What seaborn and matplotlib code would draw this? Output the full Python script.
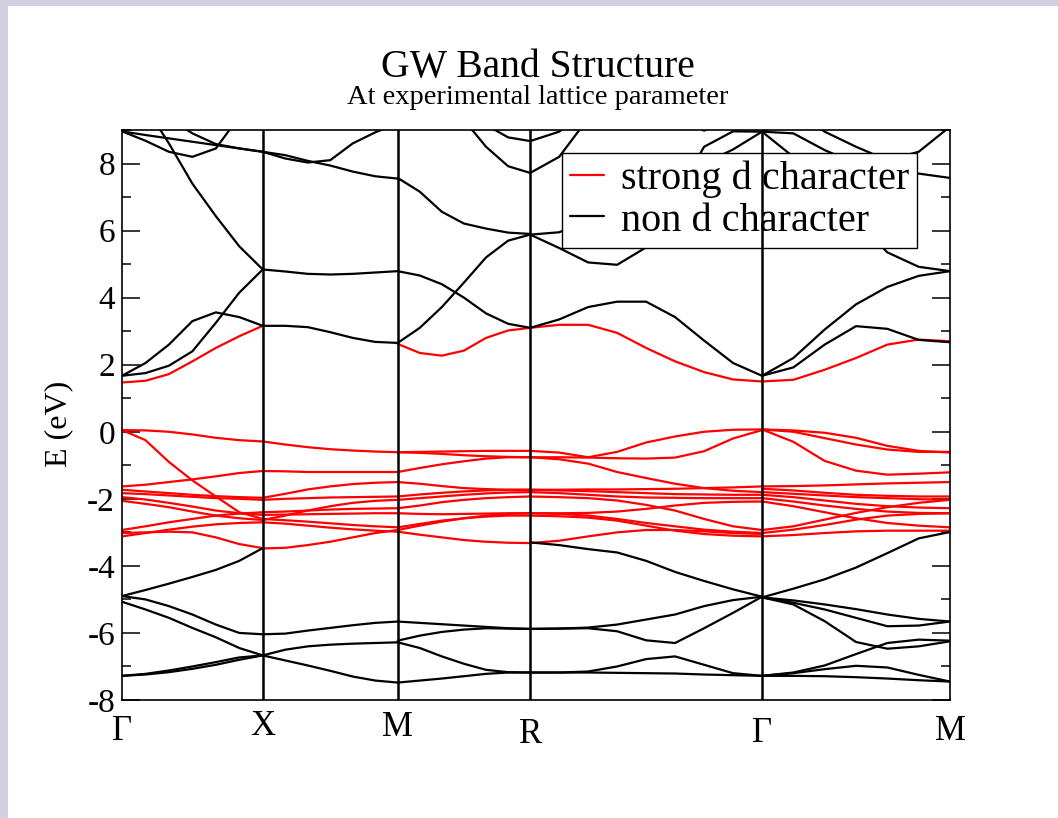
import numpy as np
import pandas as pd
import matplotlib
matplotlib.use('Agg')
import matplotlib.pyplot as plt
import seaborn as sns
from matplotlib.lines import Line2D
from matplotlib.patches import Rectangle
from matplotlib.ticker import MultipleLocator
from matplotlib.transforms import ScaledTranslation

## high symmetry points (position along the path) and their labels
kpts = [0.0, 0.170, 0.333, 0.493, 0.773, 1.0]
klabels = ['Γ', 'X', 'M', 'R', 'Γ', 'M']

## band energies (eV) read off at evenly spaced k-points along each segment
## red = strong d character, black = non d character

## Γ -> X
red_GX = [
    [0.05, 0.04, 0.0, -0.08, -0.18, -0.25, -0.29],
    [0.05, -0.25, -0.9, -1.45, -1.93, -2.4, -2.6],
    [-1.63, -1.58, -1.5, -1.42, -1.33, -1.23, -1.17],
    [-1.73, -1.78, -1.83, -1.88, -1.92, -1.95, -1.97],
    [-1.83, -1.86, -1.9, -1.94, -1.98, -2.0, -2.03],
    [-1.95, -2.02, -2.12, -2.23, -2.35, -2.43, -2.48],
    [-2.06, -2.15, -2.25, -2.38, -2.5, -2.58, -2.63],
    [-2.93, -2.82, -2.7, -2.6, -2.5, -2.44, -2.4],
    [-3.02, -3.0, -2.98, -3.0, -3.15, -3.35, -3.47],
    [-3.12, -3.02, -2.92, -2.83, -2.76, -2.72, -2.7],
    [1.47, 1.52, 1.72, 2.1, 2.5, 2.85, 3.16],
]
black_GX = [
    [10.6, 9.7, 8.6, 7.4, 6.43, 5.53, 4.84],
    [8.96, 8.85, 8.75, 8.65, 8.55, 8.45, 8.35],
    [8.96, 8.68, 8.35, 8.2, 8.45, 9.4, 10.5],
    [10.3, 9.75, 9.35, 8.9, 8.58, 8.45, 8.35],
    [1.67, 2.05, 2.6, 3.3, 3.56, 3.42, 3.16],
    [1.67, 1.75, 1.97, 2.4, 3.25, 4.15, 4.84],
    [-4.9, -4.72, -4.53, -4.33, -4.12, -3.85, -3.47],
    [-4.9, -5.0, -5.2, -5.45, -5.75, -6.0, -6.04],
    [-5.07, -5.3, -5.55, -5.85, -6.13, -6.45, -6.67],
    [-7.28, -7.24, -7.17, -7.07, -6.95, -6.8, -6.67],
    [-7.28, -7.22, -7.12, -7.0, -6.87, -6.73, -6.67],
]

## X -> M
red_XM = [
    [-0.29, -0.38, -0.46, -0.52, -0.56, -0.59, -0.61],
    [-2.6, -2.64, -2.68, -2.73, -2.78, -2.82, -2.85],
    [-1.17, -1.18, -1.2, -1.2, -1.2, -1.2, -1.2],
    [-1.97, -1.85, -1.72, -1.63, -1.56, -1.52, -1.5],
    [-2.03, -2.0, -1.98, -1.96, -1.95, -1.94, -1.93],
    [-2.48, -2.47, -2.46, -2.45, -2.44, -2.43, -2.43],
    [-3.48, -3.46, -3.38, -3.28, -3.15, -3.02, -2.93],
    [-2.4, -2.38, -2.35, -2.32, -2.3, -2.29, -2.28],
    [-2.7, -2.74, -2.8, -2.86, -2.91, -2.95, -2.98],
    [-2.63, -2.5, -2.35, -2.22, -2.12, -2.06, -2.03],
]
black_XM = [
    [8.35, 8.25, 8.08, 7.94, 7.76, 7.62, 7.55],
    [8.35, 8.15, 8.03, 8.1, 8.6, 8.93, 9.2],
    [4.84, 4.78, 4.71, 4.69, 4.71, 4.75, 4.79],
    [3.16, 3.16, 3.12, 2.97, 2.8, 2.68, 2.65],
    [-6.04, -6.02, -5.93, -5.85, -5.77, -5.7, -5.66],
    [-6.67, -6.5, -6.4, -6.35, -6.32, -6.3, -6.28],
    [-6.67, -6.82, -6.97, -7.13, -7.3, -7.42, -7.48],
]

## M -> R
red_MR = [
    [-0.61, -0.6, -0.59, -0.58, -0.57, -0.57, -0.57],
    [-0.61, -0.63, -0.66, -0.7, -0.73, -0.75, -0.76],
    [-1.2, -1.08, -0.97, -0.88, -0.8, -0.76, -0.76],
    [-1.5, -1.55, -1.62, -1.68, -1.71, -1.73, -1.73],
    [-1.93, -1.87, -1.82, -1.78, -1.75, -1.73, -1.73],
    [-2.03, -1.98, -1.93, -1.88, -1.84, -1.81, -1.8],
    [-2.28, -2.2, -2.1, -2.03, -1.98, -1.95, -1.93],
    [-2.43, -2.45, -2.46, -2.45, -2.44, -2.43, -2.43],
    [-2.85, -2.75, -2.65, -2.58, -2.53, -2.5, -2.5],
    [-2.93, -2.8, -2.68, -2.58, -2.5, -2.45, -2.43],
    [-2.98, -3.07, -3.15, -3.23, -3.28, -3.31, -3.32],
    [2.62, 2.35, 2.27, 2.42, 2.8, 3.02, 3.1],
]
black_MR = [
    [7.57, 7.16, 6.56, 6.21, 6.06, 5.94, 5.9],
    [4.79, 4.66, 4.4, 4.0, 3.53, 3.22, 3.1],
    [2.65, 3.1, 3.72, 4.45, 5.2, 5.7, 5.88],
    [12.0, 11.0, 10.2, 9.3, 8.5, 7.92, 7.72],
    [13.0, 12.0, 11.0, 10.0, 9.15, 8.78, 8.67],
    [-5.66, -5.7, -5.74, -5.78, -5.82, -5.86, -5.88],
    [-6.23, -6.08, -5.97, -5.9, -5.86, -5.87, -5.88],
    [-6.28, -6.45, -6.7, -6.92, -7.1, -7.17, -7.18],
    [-7.48, -7.42, -7.36, -7.29, -7.22, -7.18, -7.18],
]

## R -> Γ
red_RG = [
    [-0.57, -0.62, -0.76, -0.6, -0.32, -0.14, 0.0, 0.06, 0.07],
    [-0.76, -0.76, -0.77, -0.79, -0.8, -0.77, -0.58, -0.2, 0.05],
    [-0.76, -0.82, -0.95, -1.2, -1.38, -1.55, -1.68, -1.76, -1.8],
    [-1.73, -1.73, -1.72, -1.72, -1.71, -1.7, -1.68, -1.66, -1.63],
    [-1.73, -1.75, -1.77, -1.8, -1.83, -1.86, -1.87, -1.88, -1.88],
    [-1.8, -1.83, -1.88, -1.93, -1.96, -1.97, -1.98, -1.98, -1.98],
    [-1.93, -1.95, -1.98, -2.05, -2.18, -2.35, -2.6, -2.82, -2.93],
    [-2.43, -2.43, -2.42, -2.38, -2.3, -2.2, -2.12, -2.09, -2.08],
    [-2.43, -2.45, -2.5, -2.6, -2.72, -2.82, -2.92, -2.98, -3.02],
    [-2.5, -2.52, -2.56, -2.65, -2.8, -2.95, -3.05, -3.1, -3.12],
    [-3.32, -3.25, -3.12, -3.0, -2.93, -2.93, -2.97, -3.02, -3.05],
    [3.1, 3.19, 3.19, 2.95, 2.5, 2.1, 1.78, 1.56, 1.5],
]
black_RG = [
    [5.88, 5.48, 5.05, 4.98, 5.5, 7.0, 8.5, 8.96, 8.95],
    [5.88, 5.95, 6.3, 6.8, 7.2, 7.6, 8.0, 8.42, 8.95],
    [7.72, 8.2, 9.35, 10.5, 11.5, 12.0, 12.0, 12.0, 12.0],
    [8.67, 8.95, 9.6, 10.5, 11.5, 12.0, 12.0, 12.0, 12.0],
    [12.0, 11.5, 11.0, 10.5, 10.0, 9.5, 8.98, 9.4, 10.0],
    [3.1, 3.35, 3.72, 3.88, 3.88, 3.42, 2.72, 2.05, 1.67],
    [-3.3, -3.38, -3.5, -3.6, -3.85, -4.18, -4.45, -4.7, -4.92],
    [-5.88, -5.87, -5.84, -5.75, -5.6, -5.45, -5.2, -5.02, -4.92],
    [-5.88, -5.87, -5.86, -5.95, -6.22, -6.3, -5.86, -5.4, -4.92],
    [-7.18, -7.18, -7.15, -7.0, -6.78, -6.7, -6.95, -7.2, -7.28],
    [-7.18, -7.18, -7.18, -7.19, -7.2, -7.21, -7.24, -7.26, -7.28],
]

## Γ -> M
red_GM = [
    [0.07, 0.04, -0.03, -0.18, -0.42, -0.57, -0.62],
    [0.07, 0.0, -0.19, -0.38, -0.53, -0.6, -0.6],
    [0.07, -0.3, -0.87, -1.16, -1.28, -1.25, -1.21],
    [-1.63, -1.62, -1.6, -1.57, -1.54, -1.52, -1.5],
    [-1.7, -1.75, -1.82, -1.88, -1.91, -1.93, -1.93],
    [-1.8, -1.85, -1.9, -1.95, -1.98, -2.01, -2.03],
    [-1.88, -1.95, -2.05, -2.15, -2.22, -2.26, -2.28],
    [-1.98, -2.08, -2.2, -2.3, -2.38, -2.42, -2.43],
    [-2.08, -2.22, -2.4, -2.58, -2.72, -2.8, -2.85],
    [-2.93, -2.82, -2.62, -2.42, -2.25, -2.12, -2.03],
    [-3.02, -2.92, -2.78, -2.62, -2.5, -2.45, -2.43],
    [-3.12, -3.08, -3.02, -2.97, -2.95, -2.95, -2.95],
    [1.5, 1.55, 1.85, 2.2, 2.6, 2.75, 2.7],
]
black_GM = [
    [1.67, 2.2, 3.05, 3.8, 4.32, 4.65, 4.79],
    [1.67, 1.92, 2.6, 3.15, 3.07, 2.74, 2.67],
    [8.95, 8.2, 7.3, 6.3, 5.35, 4.92, 4.79],
    [8.95, 8.9, 8.4, 8.0, 7.8, 7.7, 7.57],
    [10.5, 9.6, 8.95, 8.5, 8.1, 8.35, 9.1],
    [8.95, 9.3, 9.8, 10.5, 11.0, 11.5, 12.0],
    [-4.94, -4.68, -4.4, -4.05, -3.62, -3.18, -2.99],
    [-4.94, -5.03, -5.15, -5.29, -5.45, -5.58, -5.66],
    [-4.94, -5.1, -5.3, -5.55, -5.8, -5.78, -5.66],
    [-4.94, -5.15, -5.65, -6.27, -6.47, -6.4, -6.25],
    [-7.28, -7.18, -6.97, -6.63, -6.3, -6.2, -6.23],
    [-7.28, -7.2, -7.08, -6.98, -7.03, -7.25, -7.45],
    [-7.28, -7.28, -7.29, -7.32, -7.36, -7.41, -7.45],
]

segments = [(red_GX, black_GX), (red_XM, black_XM), (red_MR, black_MR),
            (red_RG, black_RG), (red_GM, black_GM)]

## long-form table: one row per (k, E) point, one unit per drawn curve
rows = []
for i, (reds, blacks) in enumerate(segments):
    for kind, bands in (('d', reds), ('non', blacks)):
        for j, band in enumerate(bands):
            ks = np.linspace(kpts[i], kpts[i + 1], len(band))
            for kk, e in zip(ks, band):
                rows.append((kk, e, '{}-{}-{}'.format(i, kind, j), kind))
df = pd.DataFrame(rows, columns=['k', 'E', 'band', 'kind'])

sns.set_theme(style='white', rc={'text.color': 'black', 'axes.labelcolor': 'black',
                                 'xtick.color': 'black', 'ytick.color': 'black'})
plt.rcParams['font.family'] = ['Liberation Serif', 'DejaVu Serif']
plt.rcParams['axes.unicode_minus'] = False

fig = plt.figure(figsize=(10.58, 8.18), dpi=100)
fig.patch.set_facecolor('white')
## lavender window edge on the left and top
fig.add_artist(Rectangle((0, 0), 8 / 1058, 1, transform=fig.transFigure,
                         facecolor='#d0d0e0', edgecolor='none', zorder=0))
fig.add_artist(Rectangle((0, 1 - 6 / 818), 1, 6 / 818, transform=fig.transFigure,
                         facecolor='#d0d0e0', edgecolor='none', zorder=0))

ax = fig.add_axes([122 / 1058, 1 - 700 / 818, 828 / 1058, 570 / 818])

sns.lineplot(data=df[df['kind'] == 'd'], x='k', y='E', units='band',
             estimator=None, sort=False, color='red', lw=1.6, ax=ax)
sns.lineplot(data=df[df['kind'] == 'non'], x='k', y='E', units='band',
             estimator=None, sort=False, color='black', lw=1.6, ax=ax)

for k in kpts[1:-1]:
    ax.axvline(k, color='black', lw=1.8, zorder=6)

ax.set_xlim(0, 1)
ax.set_ylim(-8, 9)
ax.set_yticks(range(-8, 9, 2))
ax.yaxis.set_minor_locator(MultipleLocator(1))
ax.tick_params(axis='y', which='both', direction='in', left=True, right=True,
               labelsize=24, width=1.1, color='black', labelcolor='black', pad=5)
ax.tick_params(axis='y', which='major', length=13)
ax.tick_params(axis='y', which='minor', length=6.5)
ax.set_xticks(kpts)
ax.set_xticklabels(klabels)
ax.tick_params(axis='x', length=0, labelsize=25, labelcolor='black', pad=7)
## small vertical offsets of the k-point labels, as in the original
for lab, dy in zip(ax.get_xticklabels(), [5, 0, 1, 8, 7, 5]):
    lab.set_transform(lab.get_transform() + ScaledTranslation(0, -dy / 100, fig.dpi_scale_trans))

for sp in ax.spines.values():
    sp.set_color('black')
    sp.set_linewidth(1.2)
    sp.set_zorder(7)

ax.set_xlabel('')
ax.set_ylabel('E (eV)', fontsize=23, color='black')
ax.yaxis.set_label_coords(-0.059, 0.484)

handles = [Line2D([], [], color='red', lw=1.6), Line2D([], [], color='black', lw=1.6)]
leg = ax.legend(handles, ['strong d character', 'non d character'],
                loc='upper right', bbox_to_anchor=(0.960, 0.960), borderaxespad=0,
                fancybox=False, framealpha=1, edgecolor='black',
                handlelength=0.85, handletextpad=0.4, borderpad=0.2,
                labelspacing=0.1, prop={'size': 29})
leg.get_frame().set_linewidth(1.0)
for t in leg.get_texts():
    t.set_color('black')
leg.set_zorder(5)

fig.text(538 / 1058, 1 - 77 / 818, 'GW Band Structure', ha='center', va='baseline',
         fontsize=28.5, color='black')
fig.text(538 / 1058, 1 - 104 / 818, 'At experimental lattice parameter',
         ha='center', va='baseline', fontsize=20.5, color='black')

fig.savefig('out.png', dpi=100, facecolor='white')
